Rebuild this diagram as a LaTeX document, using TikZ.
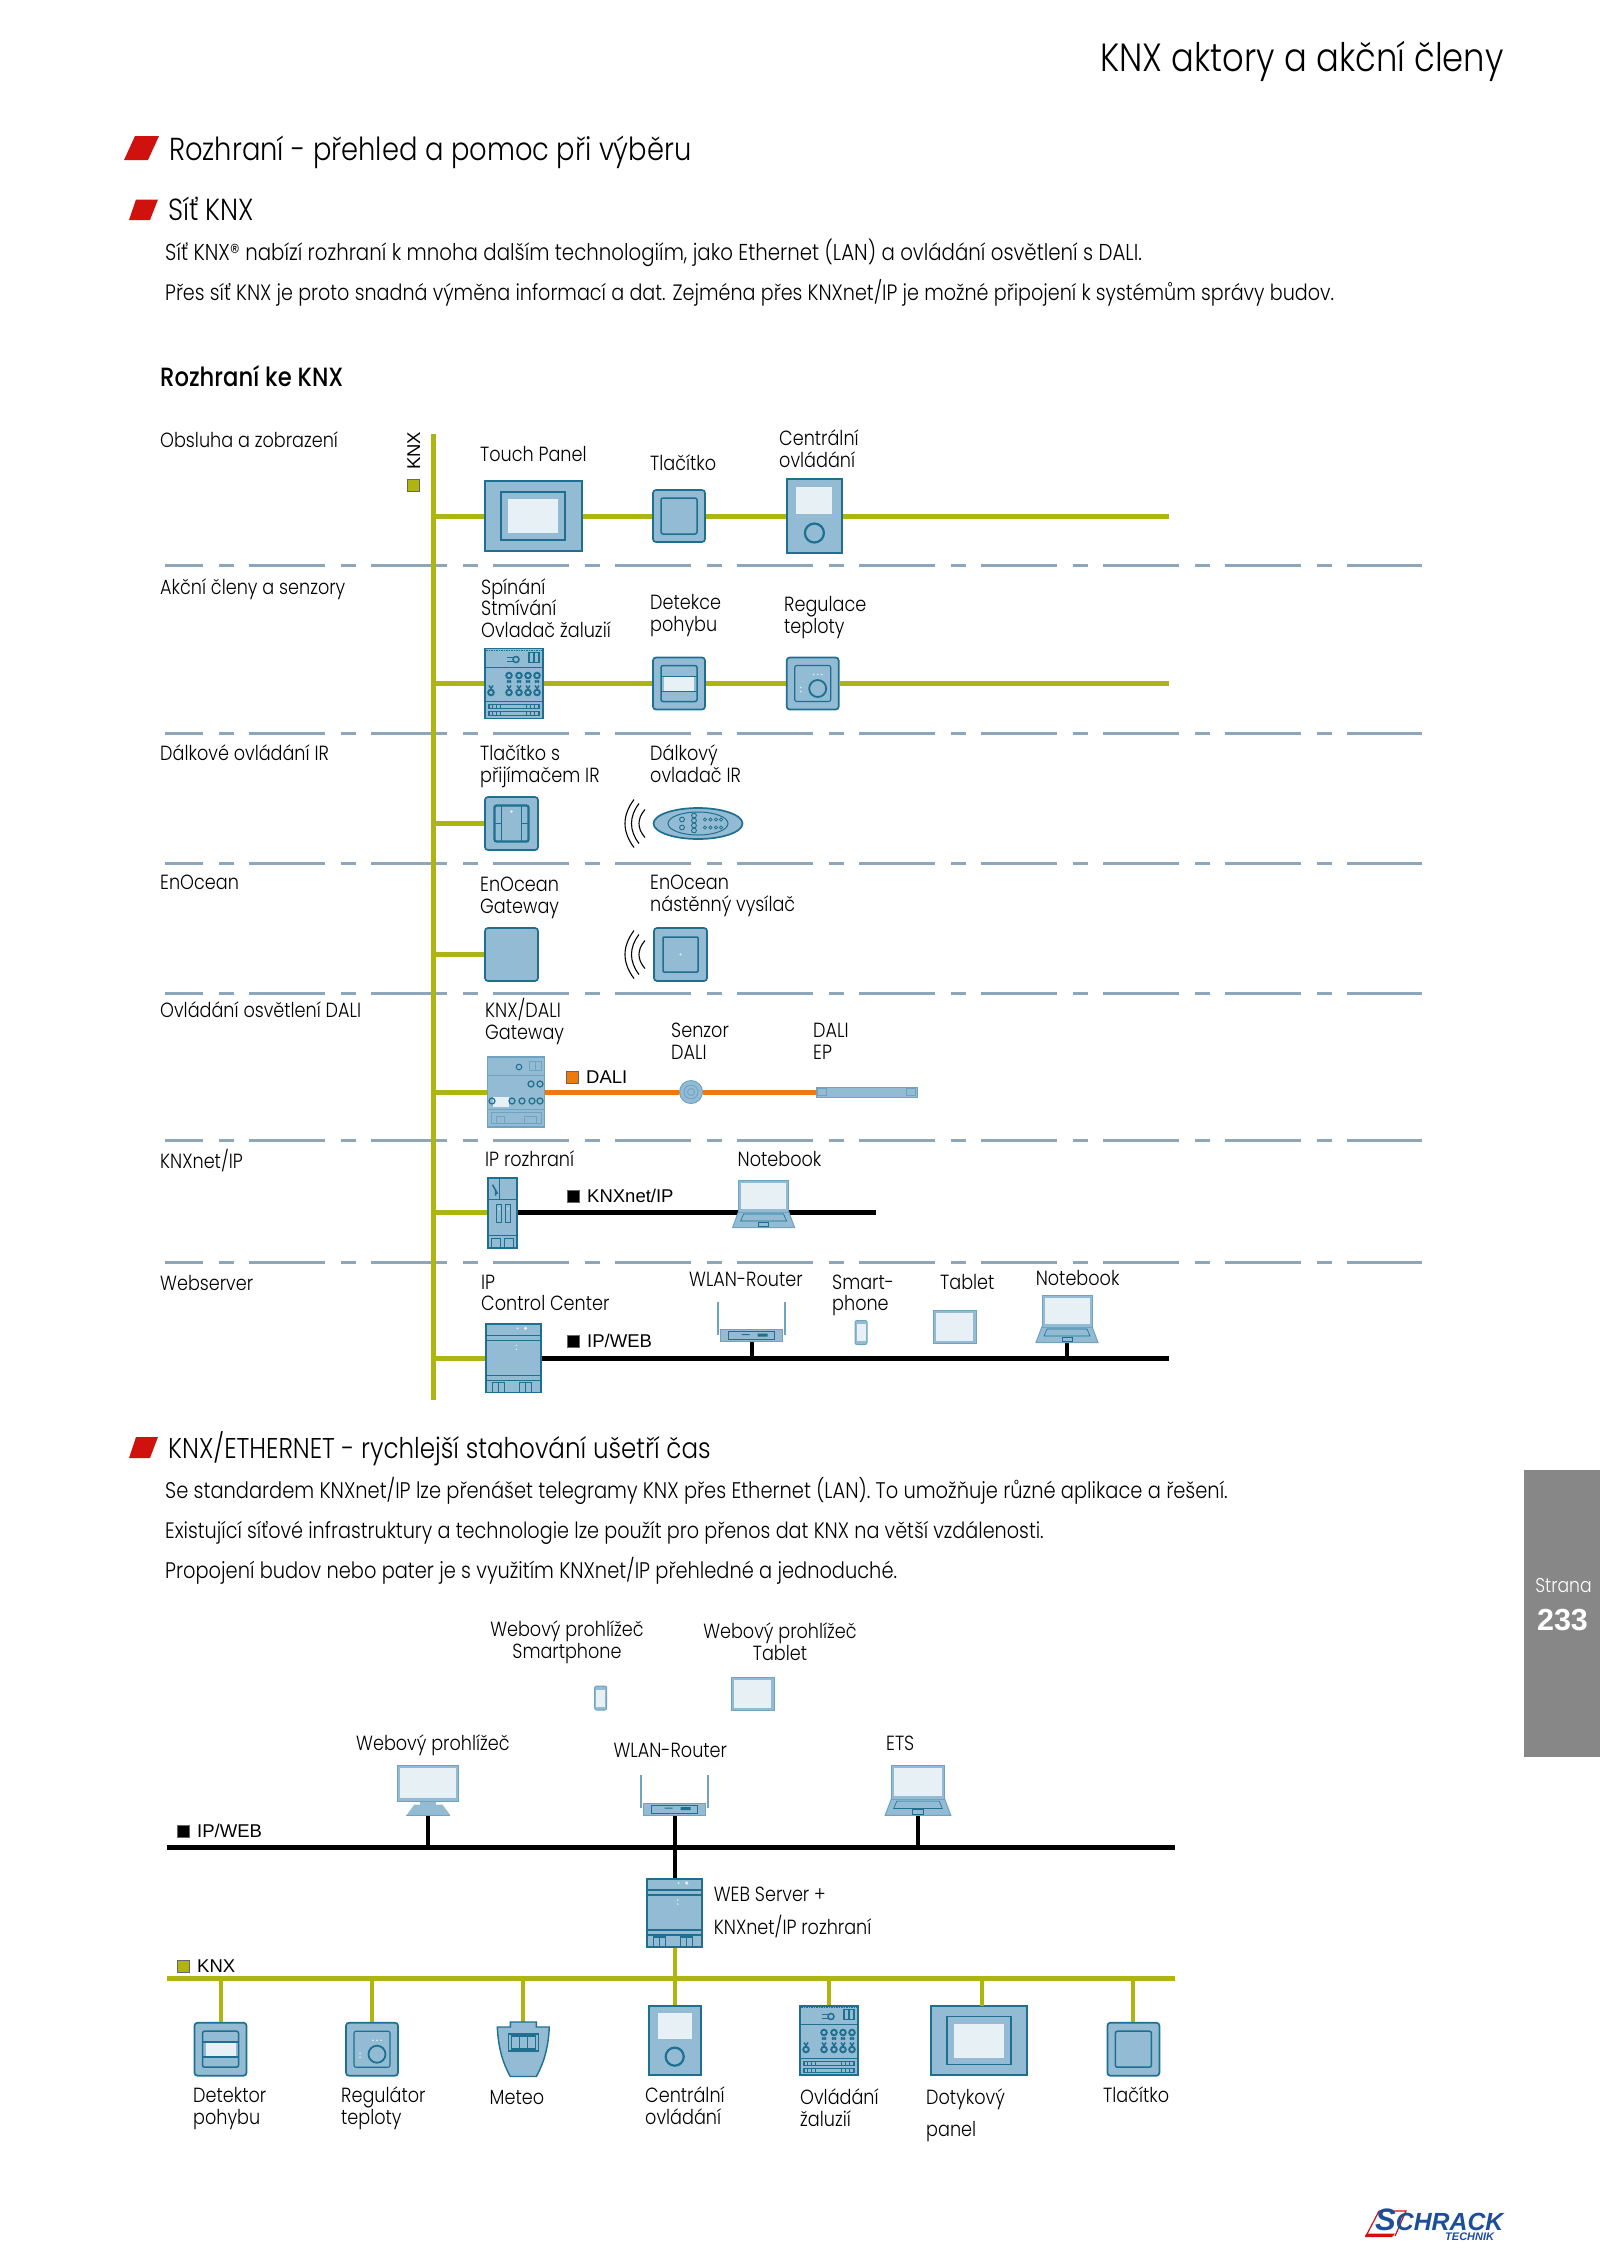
\documentclass[tikz,border=0pt]{standalone}
\usepackage{fontspec}
\usetikzlibrary{shapes.geometric}
\setmainfont{Poppins}[UprightFont=* Light,BoldFont=* Medium,FakeStretch=.86]
\newfontfamily\arialfont{Liberation Sans}
\definecolor{knxgreen}{HTML}{AEB512}
\definecolor{daliorange}{HTML}{EE7A0F}
\definecolor{rowline}{HTML}{8EA6B9}
\definecolor{devfill}{HTML}{93BBD3}
\definecolor{devline}{HTML}{1E6F90}
\definecolor{devlite}{HTML}{6FA3BF}
\definecolor{devscreen}{HTML}{E6F0F5}
\definecolor{tabgray}{HTML}{878787}
\definecolor{bulletred}{HTML}{D0120F}
\definecolor{logoblue}{HTML}{1C4E9A}
\tikzset{%
    lbl/.style={anchor=base west,inner sep=0pt,align=left,font=\fontsize{20.5}{21.5}\selectfont},
    lblc/.style={lbl,anchor=base,align=center},
    bodytxt/.style={anchor=base west,inner sep=0pt,font=\fontsize{#1}{24}\selectfont},
    headtxt/.style={anchor=base west,inner sep=0pt,font=\fontsize{28.6}{30}\selectfont},
    arialtxt/.style={anchor=base west,inner sep=0pt,font=\arialfont\fontsize{18.5}{20}\selectfont},
    knxbus/.style={knxgreen,line width=5pt},
    knxstub/.style={knxgreen,line width=4pt},
    ipbus/.style={black,line width=5pt},
    ipstub/.style={black,line width=4pt},
    dalibus/.style={daliorange,line width=5pt},
    rowsep/.style={rowline,line width=3pt,dash pattern=on 76pt off 15.5pt on 15pt off 15.5pt,dash phase=38pt},
    devbox/.style 2 args={draw=devline,fill=devfill,line width=1.7pt,inner sep=0pt,minimum width=#1,minimum height=#2},
    devround/.style 2 args={devbox={#1}{#2},rounded corners=3pt},
    ghost/.style 2 args={inner sep=0pt,minimum width=#1,minimum height=#2},
    inln/.style={draw=devline,line width=1.5pt},
    liteln/.style={draw=devlite,line width=1pt},
    keysq/.style={minimum size=12pt,inner sep=0pt,draw=black!60,line width=.5pt},
    wave/.style={black,line width=1.1pt}
}
% details drawn on top of the named device nodes
\newcommand{\touchface}[1]{\begin{scope}[shift={(#1.center)}]
    \draw[inln,line width=1.8pt] (-32,-24) rectangle (32,24);
    \fill[devscreen] (-25,-17) rectangle (25,17);
\end{scope}}
\newcommand{\btnface}[1]{\begin{scope}[shift={(#1.center)}]
    \draw[inln,rounded corners=2pt] (-18,-18) rectangle (18,18);
\end{scope}}
\newcommand{\centralface}[2]{\begin{scope}[shift={(#1.center)},scale=#2]
    \fill[devscreen] (-18,-29) rectangle (18,-2);
    \draw[inln,line width=2.2pt] (0,17) circle (9.5);
\end{scope}}
\newcommand{\motionface}[1]{\begin{scope}[shift={(#1.center)}]
    \fill[devscreen] (-15,-7) rectangle (15,8);
    \draw[inln,rounded corners=2pt] (-18,-18) rectangle (18,18);
    \draw[inln] (-18,-7) -- (18,-7);
    \draw[inln] (-18,8) -- (18,8);
\end{scope}}
\newcommand{\thermoface}[1]{\begin{scope}[shift={(#1.center)}]
    \draw[inln,line width=1.1pt,rounded corners=2pt] (-18,-18) rectangle (18,18);
    \draw[inln,line width=1.8pt] (5,5) circle (8.5);
    \fill[devscreen] (1,-9) circle (.9) (5,-9) circle (.9) (9,-9) circle (.9);
    \fill[devscreen] (-12,4) circle (.9) (-12,8) circle (.9);
\end{scope}}
\newcommand{\irface}[1]{\begin{scope}[shift={(#1.center)}]
    \draw[inln,line width=2.2pt,rounded corners=2pt] (-17,-18) rectangle (17,18);
    \draw[inln,line width=1.2pt] (-10,-18) -- (-10,18);
    \draw[inln,line width=1.2pt] (10,-18) -- (10,18);
    \draw[inln,line width=1.2pt] (-17,0) -- (-10,0);
    \draw[inln,line width=1.2pt] (10,0) -- (17,0);
    \fill[devscreen] (0,-12) circle (1.4);
\end{scope}}
\newcommand{\wallface}[1]{\begin{scope}[shift={(#1.center)}]
    \draw[inln,rounded corners=1pt] (-17.5,-17.5) rectangle (17.5,17.5);
    \fill[devscreen] (0,0) circle (1.2);
\end{scope}}
\newcommand{\irwaves}[2]{\begin{scope}[shift={(#1,#2)}]
    \draw[wave] (9,-24) .. controls (-3,-8) and (-3,8) .. (9,24);
    \draw[wave] (14,-20) .. controls (4,-7) and (4,7) .. (14,20);
    \draw[wave] (20,-14) .. controls (12,-5) and (12,5) .. (20,14);
\end{scope}}
\newcommand{\remoteface}[1]{\begin{scope}[shift={(#1.center)}]
    \draw[inln,line width=1pt] (0,0) ellipse (30 and 11.5);
    \foreach \yy in {-4,4} {
        \draw[inln,line width=.9pt] (-16,\yy) circle (2.4);
        \foreach \xx in {18,23.5,29,34} {\draw[inln,line width=.7pt] (\xx-11,\yy) circle (1.6);}
    }
    \foreach \yy in {-8,-3,2,7} {\draw[inln,line width=.9pt] (-4,\yy) circle (2.4);}
\end{scope}}
\newcommand{\railface}[1]{\begin{scope}[shift={(#1.center)}]
    \draw[inln,densely dotted,line width=.9pt] (-28,-33) -- (28,-33);
    \draw[inln,line width=1.8pt] (-28.5,-16) -- (28.5,-16);
    \draw[inln] (15,-31) rectangle (25,-21);
    \draw[inln] (20,-31) -- (20,-21);
    \draw[inln] (2,-24) circle (3);
    \draw[inln] (-7,-26) -- (0,-26) (-7,-22) -- (0,-22);
    \foreach \xx in {-5,5,14,23} {
        \draw[inln,line width=1.9pt] (\xx,-8) circle (2.8);
        \draw[inln,line width=1.9pt] (\xx,9) circle (2.8);
        \draw[inln] (\xx-2,-3) -- (\xx+2,-1) (\xx+2,-3) -- (\xx-2,-1);
        \draw[inln] (\xx-2,2) -- (\xx,5) -- (\xx+2,2);
    }
    \draw[inln,line width=1.9pt] (-23,9) circle (2.8);
    \draw[inln] (-25,2) -- (-23,5) -- (-21,2);
    \draw[inln,line width=1.8pt] (-28.5,18) -- (28.5,18);
    \draw[inln] (-25,21) rectangle (25,25) (-25,28) rectangle (25,32);
    \foreach \xx in {-22,-18,-14,12,16,20} {\draw[inln,line width=.9pt] (\xx,28) -- (\xx,32) (\xx,21) -- (\xx,25);}
\end{scope}}
\newcommand{\daliface}[1]{\begin{scope}[shift={(#1.center)}]
    \draw[liteln] (-28,-17) -- (28,-17);
    \draw[liteln] (13,-31) rectangle (25,-22);
    \draw[liteln] (19,-31) -- (19,-22);
    \draw[inln,line width=1pt] (3,-25) circle (2.8);
    \fill[devscreen] (-23,5) rectangle (-7,15);
    \foreach \xx in {15,24} {\draw[inln,line width=1.2pt] (\xx,-8) circle (3);}
    \foreach \xx in {-24,-4,6,16,24} {\draw[inln,line width=1.2pt] (\xx,9) circle (3);}
    \draw[liteln] (-28,17) -- (28,17);
    \draw[liteln] (-25,20) rectangle (25,31);
    \draw[liteln] (-20,24) rectangle (-12,31) (8,24) rectangle (20,31);
\end{scope}}
\newcommand{\ipface}[1]{\begin{scope}[shift={(#1.center)}]
    \draw[inln] (-14.5,-13) -- (14.5,-13);
    \draw[inln] (-3,-35) -- (-3,-13);
    \draw[inln] (-10,-28) -- (-5,-19) (-7,-22) -- (-7,-17);
    \draw[inln] (-6,-8) rectangle (-1,10) (3,-8) rectangle (8,10);
    \fill[devscreen] (-4,-5) rectangle (-3,-3) (5,-5) rectangle (6,-3);
    \draw[inln] (-14.5,23) -- (14.5,23);
    \draw[inln] (-11,26) rectangle (-2,35) (2,26) rectangle (11,35);
\end{scope}}
\newcommand{\serverface}[1]{\begin{scope}[shift={(#1.center)}]
    \draw[inln] (-27,-23) -- (27,-23) (-27,-18) -- (27,-18);
    \draw[inln] (-27,17) -- (27,17) (-27,22) -- (27,22);
    \draw[inln] (-21,24) rectangle (-9,34) (6,24) rectangle (18,34);
    \draw[inln,line width=.8pt] (-15,24) -- (-15,34) (12,24) -- (12,34);
    \fill[devscreen] (4,-30) circle (1) (12,-30) circle (1.8);
    \fill[devscreen] (3,-13) circle (.8) (3,-9) circle (.8);
\end{scope}}
\newcommand{\laptopface}[2]{\begin{scope}[shift={(#1.center)},scale=#2]
    \filldraw[draw=devlite,fill=devfill,line width=1pt] (-25,7.5) -- (25,7.5) -- (31,23.5) -- (-31,23.5) -- cycle;
    \draw[devline,line width=.6pt] (-20,10) -- (20,10) -- (23,17) -- (-23,17) -- cycle;
    \draw[devline,line width=.6pt] (-5,18) rectangle (5,22);
    \filldraw[draw=devlite,fill=devfill,line width=1pt] (-25,-23.5) rectangle (25,8);
    \fill[devscreen] (-22.5,-21) rectangle (22.5,5);
\end{scope}}
\newcommand{\monitorface}[1]{\begin{scope}[shift={(#1.center)}]
    \fill[devfill] (-14,14) -- (14,14) -- (22,24.8) -- (-22,24.8) -- cycle;
    \fill[devfill] (-8,10) rectangle (8,18);
    \draw[devlite,line width=1pt] (-22,24.5) -- (22,24.5);
    \filldraw[draw=devlite,fill=devfill,line width=1pt] (-30.5,-24.8) rectangle (30.5,10.5);
    \fill[devscreen] (-28,-22.3) rectangle (28,7.5);
\end{scope}}
\newcommand{\routerface}[1]{\begin{scope}[shift={(#1.center)}]
    \draw[devlite,line width=2.4pt] (-33.5,-20) -- (-33.5,13);
    \draw[devlite,line width=2.4pt] (33.5,-20) -- (33.5,13);
    \filldraw[draw=devlite,fill=devfill,line width=1pt] (-31,8) rectangle (31,20);
    \draw[devline,line width=.6pt] (-23,10) rectangle (23,18);
    \fill[devline] (-10,12.5) rectangle (-2,13.5) (6,12) rectangle (16,15);
\end{scope}}
\newcommand{\tabletface}[1]{\begin{scope}[shift={(#1.center)}]
    \fill[devscreen] (-18.5,-14) rectangle (18.5,14);
\end{scope}}
\newcommand{\phoneface}[1]{\begin{scope}[shift={(#1.center)}]
    \fill[devscreen] (-4.5,-8.5) rectangle (4.5,8.5);
\end{scope}}

\begin{document}
\begin{tikzpicture}[x=1pt,y=-1pt]
    \useasboundingbox (0,0) rectangle (1600,2263);

    % page head
    \node[anchor=base west,inner sep=0pt,font=\fontsize{39.3}{40}\selectfont] (pagetitle) at (1100,71) {KNX aktory a akční členy};
    \fill[bulletred] (135,136) -- (159,136) -- (148,160) -- (124,160) -- cycle;
    \node[anchor=base west,inner sep=0pt,font=\fontsize{31.8}{32}\selectfont] (head1) at (169,160) {Rozhraní - přehled a pomoc při výběru};
    \fill[bulletred] (136,199.5) -- (158,199.5) -- (150,220) -- (129,220) -- cycle;
    \node[headtxt,font=\fontsize{30.5}{32}\selectfont] (head2) at (168,220) {Síť KNX};
    \node[bodytxt=23] (body1) at (165,260) {Síť KNX® nabízí rozhraní k mnoha dalším technologiím, jako Ethernet (LAN) a ovládání osvětlení s DALI.};
    \node[bodytxt=22.27] (body2) at (165,300) {Přes síť KNX je proto snadná výměna informací a dat. Zejména přes KNXnet/IP je možné připojení k systémům správy budov.};
    \node[anchor=base west,inner sep=0pt,font=\bfseries\fontsize{26.4}{28}\selectfont] (head3) at (160,386) {Rozhraní ke KNX};

    % rows
    \coordinate (sepA) at (165,565);
    \coordinate (sepAe) at (1422,565);
    \coordinate (sepB) at (165,733);
    \coordinate (sepBe) at (1422,733);
    \coordinate (sepC) at (165,863);
    \coordinate (sepCe) at (1422,863);
    \coordinate (sepD) at (165,993);
    \coordinate (sepDe) at (1422,993);
    \coordinate (sepE) at (165,1140.5);
    \coordinate (sepEe) at (1422,1140.5);
    \coordinate (sepF) at (165,1262.7);
    \coordinate (sepFe) at (1422,1262.7);
    \draw[rowsep] (sepA) -- (sepAe);
    \draw[rowsep] (sepB) -- (sepBe);
    \draw[rowsep] (sepC) -- (sepCe);
    \draw[rowsep] (sepD) -- (sepDe);
    \draw[rowsep] (sepE) -- (sepEe);
    \draw[rowsep] (sepF) -- (sepFe);

    \node[lbl] (rowA) at (160,447.5) {Obsluha a zobrazení};
    \node[lbl] (rowB) at (160,594.5) {Akční členy a senzory};
    \node[lbl] (rowC) at (160,760.5) {Dálkové ovládání IR};
    \node[lbl] (rowD) at (160,889.5) {EnOcean};
    \node[lbl] (rowE) at (160,1017.5) {Ovládání osvětlení DALI};
    \node[lbl] (rowF) at (160,1168) {KNXnet/IP};
    \node[lbl] (rowG) at (160,1290) {Webserver};

    % devices of the upper diagram
    \node[devbox={97pt}{70pt}] (touchA) at (533.3,516){};
    \node[devround={52pt}{52pt}] (btnA) at (679,516){};
    \node[devbox={55pt}{74pt}] (centralA) at (814.4,516){};
    \node[devbox={58pt}{70pt}] (railA) at (514,683.5){};
    \node[devround={52pt}{52pt}] (motionA) at (679,683.5){};
    \node[devround={52pt}{52pt}] (thermoA) at (812.7,683.5){};
    \node[devround={53pt}{53pt}] (irbtn) at (511.5,823.5){};
    \node[draw=devline,fill=devfill,line width=1.7pt,shape=ellipse,inner sep=0pt,minimum width=89pt,minimum height=31pt] (remote) at (698,823.5){};
    \node[devround={53pt}{53pt}] (enogw) at (511.5,954.5){};
    \node[devround={53pt}{53pt}] (enowall) at (680.5,954.5){};
    \node[devbox={57pt}{70pt},draw=devlite] (daligw) at (516,1092){};
    \node[circle,draw=devlite,fill=devfill,line width=1pt,inner sep=0pt,minimum size=23pt] (dalisens) at (691,1092){};
    \node[draw=devlite,fill=devfill,line width=.8pt,inner sep=0pt,minimum width=101pt,minimum height=10pt] (daliep) at (866.5,1092){};
    \node[devbox={29pt}{70pt}] (ipif) at (502.5,1212.7){};
    \node[ghost={62pt}{46pt}] (lapA) at (763.6,1204){};
    \node[devbox={55pt}{68.5pt}] (srvA) at (513.5,1358.3){};
    \node[ghost={70pt}{40pt}] (routerA) at (751.5,1321.7){};
    \node[draw=devlite,fill=devfill,line width=1pt,rounded corners=2pt,inner sep=0pt,minimum width=12pt,minimum height=24pt] (phoneA) at (861,1332.5){};
    \node[draw=devlite,fill=devfill,line width=1pt,inner sep=0pt,minimum width=43pt,minimum height=33pt] (tabletA) at (954.5,1326.7){};
    \node[ghost={62pt}{46pt}] (lapB) at (1067,1319){};

    % buses, upper diagram
    \coordinate (barTop) at (433,434);
    \coordinate (barEnd) at (433,1400);
    \coordinate (rowAe) at (1169,516);
    \coordinate (rowBe) at (1169,683.5);
    \coordinate (rowFe) at (875.6,1212.7);
    \coordinate (rowGe) at (1169,1358.3);
    \draw[knxbus] (barTop) -- (barEnd);
    \draw[knxbus] (barTop|-touchA) -- (touchA) -- (btnA) -- (centralA) -- (rowAe);
    \draw[knxbus] (barTop|-railA) -- (railA) -- (motionA) -- (thermoA) -- (rowBe);
    \draw[knxbus] (barTop|-irbtn) -- (irbtn);
    \draw[knxbus] (barTop|-enogw) -- (enogw);
    \draw[knxbus] (barTop|-daligw) -- (daligw);
    \draw[knxbus] (barTop|-ipif) -- (ipif);
    \draw[knxbus] (barTop|-srvA) -- (srvA);
    \draw[dalibus] (daligw) -- (dalisens) -- (daliep);
    \draw[ipbus] (ipif) -- (rowFe);
    \draw[ipbus] (srvA) -- (rowGe);
    \draw[ipstub] (routerA) -- (routerA|-rowGe);
    \draw[ipstub] (lapB) -- (lapB|-rowGe);

    % device faces, upper diagram
    \touchface{touchA}
    \btnface{btnA}
    \centralface{centralA}{1}
    \railface{railA}
    \motionface{motionA}
    \thermoface{thermoA}
    \irface{irbtn}
    \irwaves{625}{823.5}
    \remoteface{remote}
    \irwaves{625}{954.5}
    \wallface{enowall}
    \daliface{daligw}
    \draw[devlite,line width=.8pt] (dalisens) circle (7);
    \draw[devlite,line width=.8pt] (dalisens) circle (3.5);
    \draw[devlite,line width=.7pt] (daliep.west) ++(2,-3.5) rectangle ++(9,7);
    \draw[devlite,line width=.7pt] (daliep.east) ++(-11,-3.5) rectangle ++(9,7);
    \ipface{ipif}
    \laptopface{lapA}{1}
    \serverface{srvA}
    \routerface{routerA}
    \phoneface{phoneA}
    \tabletface{tabletA}
    \laptopface{lapB}{1}

    % bus keys
    \node[keysq,fill=knxgreen] (keyA) at (413.5,485){};
    \node[arialtxt,rotate=90] (keyAt) at (420,470) {KNX};
    \node[keysq,fill=daliorange] (keyB) at (572,1077){};
    \node[arialtxt] (keyBt) at (586,1083) {DALI};
    \node[keysq,fill=black] (keyC) at (573,1196){};
    \node[arialtxt] (keyCt) at (587,1202.7) {KNXnet/IP};
    \node[keysq,fill=black] (keyD) at (573,1341.7){};
    \node[arialtxt] (keyDt) at (587,1347.7) {IP/WEB};

    % labels, upper diagram
    \node[lbl] (lTouch) at (480,461.7) {Touch Panel};
    \node[lbl] (lBtn) at (650,470) {Tlačítko};
    \node[lbl] (lCentral) at (779,467) {Centrální\\ovládání};
    \node[lbl] (lRail) at (481,637) {Spínání\\Stmívání\\Ovladač žaluzií};
    \node[lbl] (lMotion) at (650,631) {Detekce\\pohybu};
    \node[lbl] (lThermo) at (784,633) {Regulace\\teploty};
    \node[lbl] (lIrbtn) at (480,782) {Tlačítko s\\přijímačem IR};
    \node[lbl] (lRemote) at (650,782) {Dálkový\\ovladač IR};
    \node[lbl] (lEnogw) at (480,913) {EnOcean\\Gateway};
    \node[lbl] (lEnowall) at (650,911) {EnOcean\\nástěnný vysílač};
    \node[lbl] (lDaligw) at (485,1039) {KNX/DALI\\Gateway};
    \node[lbl] (lSens) at (671,1059) {Senzor\\DALI};
    \node[lbl] (lEp) at (813,1059) {DALI\\EP};
    \node[lbl] (lIpif) at (485,1166.7) {IP rozhraní};
    \node[lbl] (lLapA) at (737.5,1166.7) {Notebook};
    \node[lbl] (lSrv) at (481,1310.7) {IP\\Control Center};
    \node[lbl] (lRouterA) at (689,1286.7) {WLAN-Router};
    \node[lbl] (lPhone) at (832,1310.7) {Smart-\\phone};
    \node[lbl] (lTablet) at (940,1289) {Tablet};
    \node[lbl] (lLapB) at (1035.6,1285) {Notebook};

    % second part
    \fill[bulletred] (136,1437) -- (158,1437) -- (150,1458) -- (129,1458) -- cycle;
    \node[headtxt] (head4) at (168,1458) {KNX/ETHERNET - rychlejší stahování ušetří čas};
    \node[bodytxt=22.6] (body3) at (165,1498.5) {Se standardem KNXnet/IP lze přenášet telegramy KNX přes Ethernet (LAN). To umožňuje různé aplikace a řešení.};
    \node[bodytxt=22.33] (body4) at (165,1538.5) {Existující síťové infrastruktury a technologie lze použít pro přenos dat KNX na větší vzdálenosti.};
    \node[bodytxt=22.55] (body5) at (165,1578.5) {Propojení budov nebo pater je s využitím KNXnet/IP přehledné a jednoduché.};

    % devices of the lower diagram
    \node[draw=devlite,fill=devfill,line width=1pt,rounded corners=2pt,inner sep=0pt,minimum width=12pt,minimum height=24pt] (phoneB) at (600.7,1698){};
    \node[draw=devlite,fill=devfill,line width=1pt,inner sep=0pt,minimum width=43pt,minimum height=33pt] (tabletB) at (752.7,1693.5){};
    \node[ghost={61pt}{50pt}] (monitor) at (428.4,1790.5){};
    \node[ghost={70pt}{40pt}] (routerB) at (674.7,1795){};
    \node[ghost={66pt}{49pt}] (lapC) at (918,1790.5){};
    \node[devbox={55pt}{68pt}] (srvB) at (674.7,1913){};
    \node[devround={52pt}{53pt}] (motionB) at (220.5,2049.2){};
    \node[devround={52pt}{53pt}] (thermoB) at (372,2049.2){};
    \node[ghost={52pt}{54pt}] (meteo) at (523.3,2049){};
    \node[devbox={52pt}{69.5pt}] (centralB) at (674.7,2040.5){};
    \node[devbox={58pt}{69.5pt}] (railB) at (829,2040.5){};
    \node[devbox={96pt}{69.5pt}] (touchB) at (979,2040.5){};
    \node[devround={52pt}{53pt}] (btnB) at (1133.4,2049.2){};

    % buses, lower diagram
    \coordinate (ipS) at (167,1847.7);
    \coordinate (ipE) at (1174.5,1847.7);
    \coordinate (knxS) at (167,1978);
    \coordinate (knxE) at (1174.5,1978);
    \draw[ipbus] (ipS) -- (ipE);
    \draw[knxbus] (knxS) -- (knxE);
    \draw[ipstub] (monitor) -- (monitor|-ipS);
    \draw[ipstub] (routerB) -- (srvB);
    \draw[ipstub] (lapC) -- (lapC|-ipS);
    \draw[knxstub] (srvB) -- (centralB);
    \draw[knxstub] (motionB|-knxS) -- (motionB);
    \draw[knxstub] (thermoB|-knxS) -- (thermoB);
    \draw[knxstub] (meteo|-knxS) -- (meteo);
    \draw[knxstub] (railB|-knxS) -- (railB);
    \coordinate (touchTop) at (982,2005.7);
    \draw[knxstub] (touchTop|-knxS) -- (touchTop);
    \draw[knxstub] (btnB|-knxS) -- (btnB);

    % device faces, lower diagram
    \phoneface{phoneB}
    \tabletface{tabletB}
    \monitorface{monitor}
    \routerface{routerB}
    \laptopface{lapC}{1.06}
    \serverface{srvB}
    \motionface{motionB}
    \thermoface{thermoB}
    \begin{scope}[shift={(meteo.center)}]
        \filldraw[draw=devline,fill=devfill,line width=1.4pt] (-13,-22) -- (-13,-27) -- (13,-27) -- (13,-22) -- (26,-22) .. controls (25,0) and (20,15) .. (13,27.5) -- (-13,27.5) .. controls (-20,15) and (-25,0) .. (-26,-22) -- cycle;
        \draw[inln] (-15,-15) rectangle (15,2);
        \draw[inln] (-12,-13) rectangle (12,0);
        \draw[inln] (-4,-13) -- (-4,0) (4,-13) -- (4,0);
    \end{scope}
    \centralface{centralB}{.95}
    \railface{railB}
    \touchface{touchB}
    \btnface{btnB}

    % bus keys, lower diagram
    \node[keysq,fill=black] (keyE) at (183,1831){};
    \node[arialtxt] (keyEt) at (197,1837) {IP/WEB};
    \node[keysq,fill=knxgreen] (keyF) at (183,1966){};
    \node[arialtxt] (keyFt) at (197,1972) {KNX};

    % labels, lower diagram
    \node[lblc] (lPhoneB) at (567,1658) {Webový prohlížeč\\Smartphone};
    \node[lblc] (lTabletB) at (780,1660) {Webový prohlížeč\\Tablet};
    \node[lbl] (lMonitor) at (356,1750) {Webový prohlížeč};
    \node[lbl] (lRouterB) at (613.4,1757) {WLAN-Router};
    \node[lbl] (lEts) at (886,1750) {ETS};
    \node[lbl] (lSrvB) at (713.7,1901.7) {WEB Server +};
    \node[lbl] (lSrvC) at (713.7,1934) {KNXnet/IP rozhraní};
    \node[lbl] (lMotionB) at (193,2124) {Detektor\\pohybu};
    \node[lbl] (lThermoB) at (341,2124) {Regulátor\\teploty};
    \node[lbl] (lMeteo) at (489.5,2104) {Meteo};
    \node[lbl] (lCentralB) at (645,2124) {Centrální\\ovládání};
    \node[lbl] (lRailB) at (800,2126) {Ovládání\\žaluzií};
    \node[lbl] (lTouchB) at (926,2104) {Dotykový};
    \node[lbl] (lTouchC) at (926,2136.7) {panel};
    \node[lbl] (lBtnB) at (1103,2102) {Tlačítko};

    % side tab
    \fill[tabgray] (1524,1470) rectangle (1600,1757);
    \node[anchor=base,inner sep=0pt,text=white,font=\fontsize{20}{22}\selectfont] (tabA) at (1563.5,1592.7) {Strana};
    \node[anchor=base,inner sep=0pt,text=white,font=\arialfont\bfseries\fontsize{30.5}{33}\selectfont] (tabB) at (1562.5,1630.7) {233};

    % logo
    \draw[bulletred,line width=1.2pt] (1379,2211) -- (1406,2211) -- (1395,2236);
    \draw[bulletred,line width=1.2pt] (1379,2211) -- (1366,2236);
    \fill[bulletred] (1366,2233.5) -- (1395,2233.5) -- (1392,2237) -- (1365,2237) -- cycle;
    \node[anchor=base west,inner sep=0pt,text=logoblue,font=\arialfont\bfseries\itshape\fontsize{24.8}{26}\selectfont] (logoA) at (1375,2230.7) {{\fontsize{31}{31}\selectfont S}CHRACK};
    \node[anchor=base west,inner sep=0pt,text=logoblue,font=\arialfont\bfseries\itshape\fontsize{11}{12}\selectfont] (logoB) at (1445,2240) {TECHNIK};
\end{tikzpicture}
\end{document}
